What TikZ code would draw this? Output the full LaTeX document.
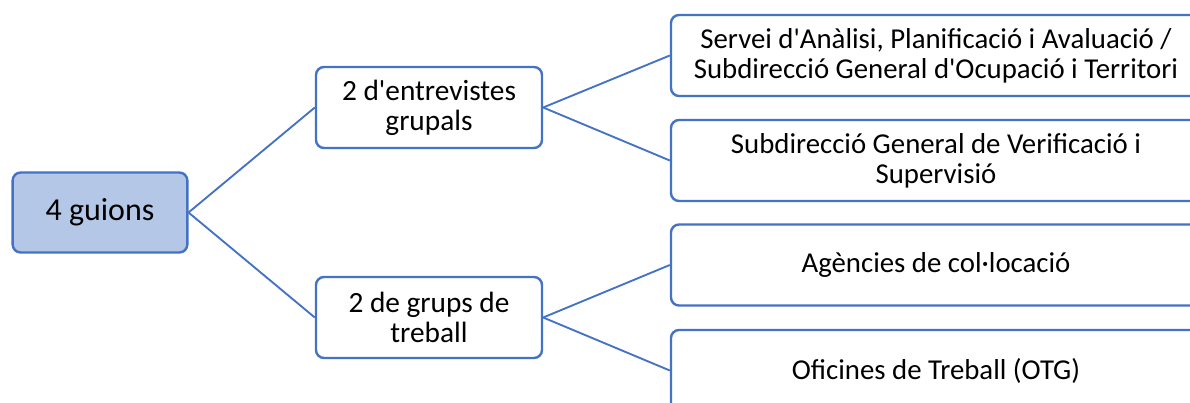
\documentclass[tikz,border=0pt]{standalone}
\usepackage{fontspec}
\setmainfont{Carlito}
\usepackage{xcolor}
\definecolor{boxline}{HTML}{4472C4}
\definecolor{rootfill}{HTML}{B4C7E7}
\usepackage{tikz}
\usetikzlibrary{positioning}
\newcommand{\apos}{\textquotesingle}
\tikzset{
  every picture/.style = {
    x = 0.75pt,
    y = -0.75pt,
  }
  ,
  guio/.style = {
    rectangle,
    rounded corners = 6pt,
    draw = boxline,
    line width = 1.8pt,
    fill = white,
    align = center,
    font = \fontsize{21.6}{22.5}\selectfont,
    inner sep = 0pt
  }
  , % root of the tree
  guio-root/.style = {
    guio,
    fill = rootfill,
    font = \fontsize{24}{26}\selectfont,
    minimum width = 131pt,
    minimum height = 60pt
  }
  , % middle level
  guio-mid/.style = {
    guio,
    font = \fontsize{22}{22.5}\selectfont,
    minimum width = 169.5pt,
    minimum height = 60.75pt
  }
  , % leaves
  guio-leaf/.style = {
    guio,
    minimum width = 397.5pt,
    minimum height = 60.75pt
  }
  , % connectors
  branch/.style = {
    draw = boxline,
    line width = 1.4pt
  }
}
\begin{document}
\begin{tikzpicture}
    \clip (0,0) rectangle (1190,403);
    \useasboundingbox (0,0) rectangle (1190,403);
    \node[guio-root] at (100,212.5) (root) {4 guions};
    \node[guio-mid] at (429,107.5) (ent) {2 d\apos entrevistes\\grupals};
    \node[guio-mid] at (429,317.5) (grup) {2 de grups de\\treball};
    \node[guio-leaf] at (936,55.5) (serv) {Servei d\apos Anàlisi, Planificació i Avaluació /\\Subdirecció General d\apos Ocupació i Territori};
    \node[guio-leaf] at (936,160.5) (verif) {Subdirecció General de Verificació i\\Supervisió};
    \node[guio-leaf] at (936,265) (agen) {Agències de col·locació};
    \node[guio-leaf] at (936,370.5) (ofic) {Oficines de Treball (OTG)};
    \path[branch] (root.east) edge (ent.west);
    \path[branch] (root.east) edge (grup.west);
    \path[branch] (ent.east) edge (serv.west);
    \path[branch] (ent.east) edge (verif.west);
    \path[branch] (grup.east) edge (agen.west);
    \path[branch] (grup.east) edge (ofic.west);
\end{tikzpicture}
\end{document}
